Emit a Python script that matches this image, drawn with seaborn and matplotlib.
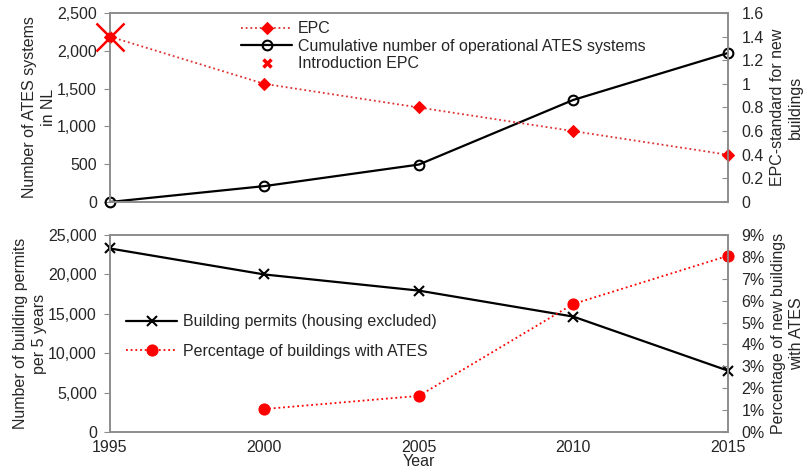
import matplotlib
matplotlib.use('Agg')
import matplotlib.pyplot as plt
import matplotlib.ticker as mticker
import pandas as pd
import seaborn as sns

# Data
years = [1995, 2000, 2005, 2010, 2015]
ates_cumulative = [0, 210, 495, 1350, 1970]
epc_years = [1995, 2000, 2005, 2010, 2015]
epc_values = [1.4, 1.0, 0.8, 0.6, 0.4]
epc_intro_year = [1995]
epc_intro_value = [1.4]
permits = [23300, 20000, 17950, 14650, 7800]
pct_years = [2000, 2005, 2010, 2015]
pct_ates = [1.05, 1.65, 5.85, 8.05]

sns.set_style('white')
plt.rcParams['font.family'] = ['Liberation Sans', 'DejaVu Sans']
plt.rcParams['font.size'] = 11.5

spine_col = '#8c8c8c'
dots = (0, (1, 1.6))

top = pd.DataFrame({'year': years, 'ates': ates_cumulative})
epc = pd.DataFrame({'year': epc_years, 'epc': epc_values})
bot = pd.DataFrame({'year': years, 'permits': permits})
pct = pd.DataFrame({'year': pct_years, 'pct': pct_ates})

fig = plt.figure(figsize=(8.05, 4.73), dpi=100)
ax1 = fig.add_axes([0.1366, 0.573, 0.7674, 0.3995])
ax3 = fig.add_axes([0.1366, 0.0867, 0.7674, 0.4163])
ax2 = ax1.twinx()
ax4 = ax3.twinx()

# Top panel
sns.lineplot(data=epc, x='year', y='epc', ax=ax2, color='#e03030', linestyle=dots,
             linewidth=1.3, marker='D', markersize=6, markeredgecolor='red',
             markerfacecolor='red', legend=False, clip_on=False)
sns.lineplot(data=top, x='year', y='ates', ax=ax1, color='black', linewidth=1.6,
             marker='o', markersize=7, markerfacecolor='none',
             markeredgecolor='black', markeredgewidth=1.5, legend=False,
             clip_on=False)
ax2.plot(epc_intro_year, epc_intro_value, linestyle='none', marker='x',
         markersize=20, markeredgewidth=1.8, color='red', clip_on=False, zorder=5)
ax2.plot(epc_intro_year, epc_intro_value, linestyle='none', marker='o',
         markersize=6, color='red', clip_on=False, zorder=5)
intro_handle = plt.Line2D([], [], linestyle='none', marker='x', color='red',
                          markersize=6, markeredgewidth=2.5)

ax1.set_ylim(0, 2500)
ax1.set_yticks(range(0, 2501, 500))
ax1.yaxis.set_major_formatter(mticker.StrMethodFormatter('{x:,.0f}'))
ax2.set_ylim(0, 1.6)
ax2.set_yticks([0, 0.2, 0.4, 0.6, 0.8, 1.0, 1.2, 1.4, 1.6])
ax2.yaxis.set_major_formatter(mticker.FuncFormatter(lambda v, p: f'{v:g}'))
ax1.set_ylabel('Number of ATES systems\nin NL', linespacing=1.3, labelpad=1)
ax2.set_ylabel('EPC-standard for new\nbuildings', linespacing=1.3, labelpad=4)
ax1.set_xlabel('')
ax1.tick_params(axis='x', labelbottom=False)

h1 = ax2.get_lines()[0]
h2 = ax1.get_lines()[0]
ax1.legend([h1, h2, intro_handle],
           ['EPC', 'Cumulative number of operational ATES systems', 'Introduction EPC'],
           loc='upper left', bbox_to_anchor=(0.194, 1.015), frameon=False,
           handlelength=3.2, handletextpad=0.35, labelspacing=0.15,
           borderaxespad=0.3)

# Bottom panel
sns.lineplot(data=bot, x='year', y='permits', ax=ax3, color='black', linewidth=1.6,
             marker='x', markersize=7, markeredgewidth=1.5,
             markeredgecolor='black', legend=False, clip_on=False)
sns.lineplot(data=pct, x='year', y='pct', ax=ax4, color='red', linestyle=dots,
             linewidth=1.3, marker='o', markersize=8, markeredgecolor='red',
             legend=False, clip_on=False)

ax3.set_ylim(0, 25000)
ax3.set_yticks(range(0, 25001, 5000))
ax3.yaxis.set_major_formatter(mticker.StrMethodFormatter('{x:,.0f}'))
ax4.set_ylim(0, 9)
ax4.set_yticks(range(0, 10))
ax4.yaxis.set_major_formatter(mticker.FuncFormatter(lambda v, p: f'{v:.0f}%'))
ax3.set_ylabel('Number of building permits\nper 5 years', linespacing=1.3, labelpad=1)
ax4.set_ylabel('Percentage of new buildings\nwith ATES', linespacing=1.3, labelpad=4)
ax3.set_xlabel('Year', labelpad=-1)
ax4.set_xlabel('')

ax3.legend([ax3.lines[0], ax4.lines[0]],
           ['Building permits (housing excluded)', 'Percentage of buildings with ATES'],
           loc='upper left', bbox_to_anchor=(0.003, 0.67), frameon=False,
           handlelength=3.2, handletextpad=0.35, labelspacing=0.9)

for ax in (ax1, ax2, ax3, ax4):
    ax.set_xlim(1995, 2015)
    ax.set_xticks(years)
    for s in ax.spines.values():
        s.set_color(spine_col)
        s.set_linewidth(1.2)
    ax.tick_params(axis='x', direction='in', length=4, color=spine_col, pad=6)
for ax in (ax1, ax3):
    ax.tick_params(axis='y', direction='out', length=4, color=spine_col, pad=5.5)
for ax in (ax2, ax4):
    ax.tick_params(axis='y', direction='in', length=4, color=spine_col, pad=10)

fig.savefig('out.png', dpi=100)
